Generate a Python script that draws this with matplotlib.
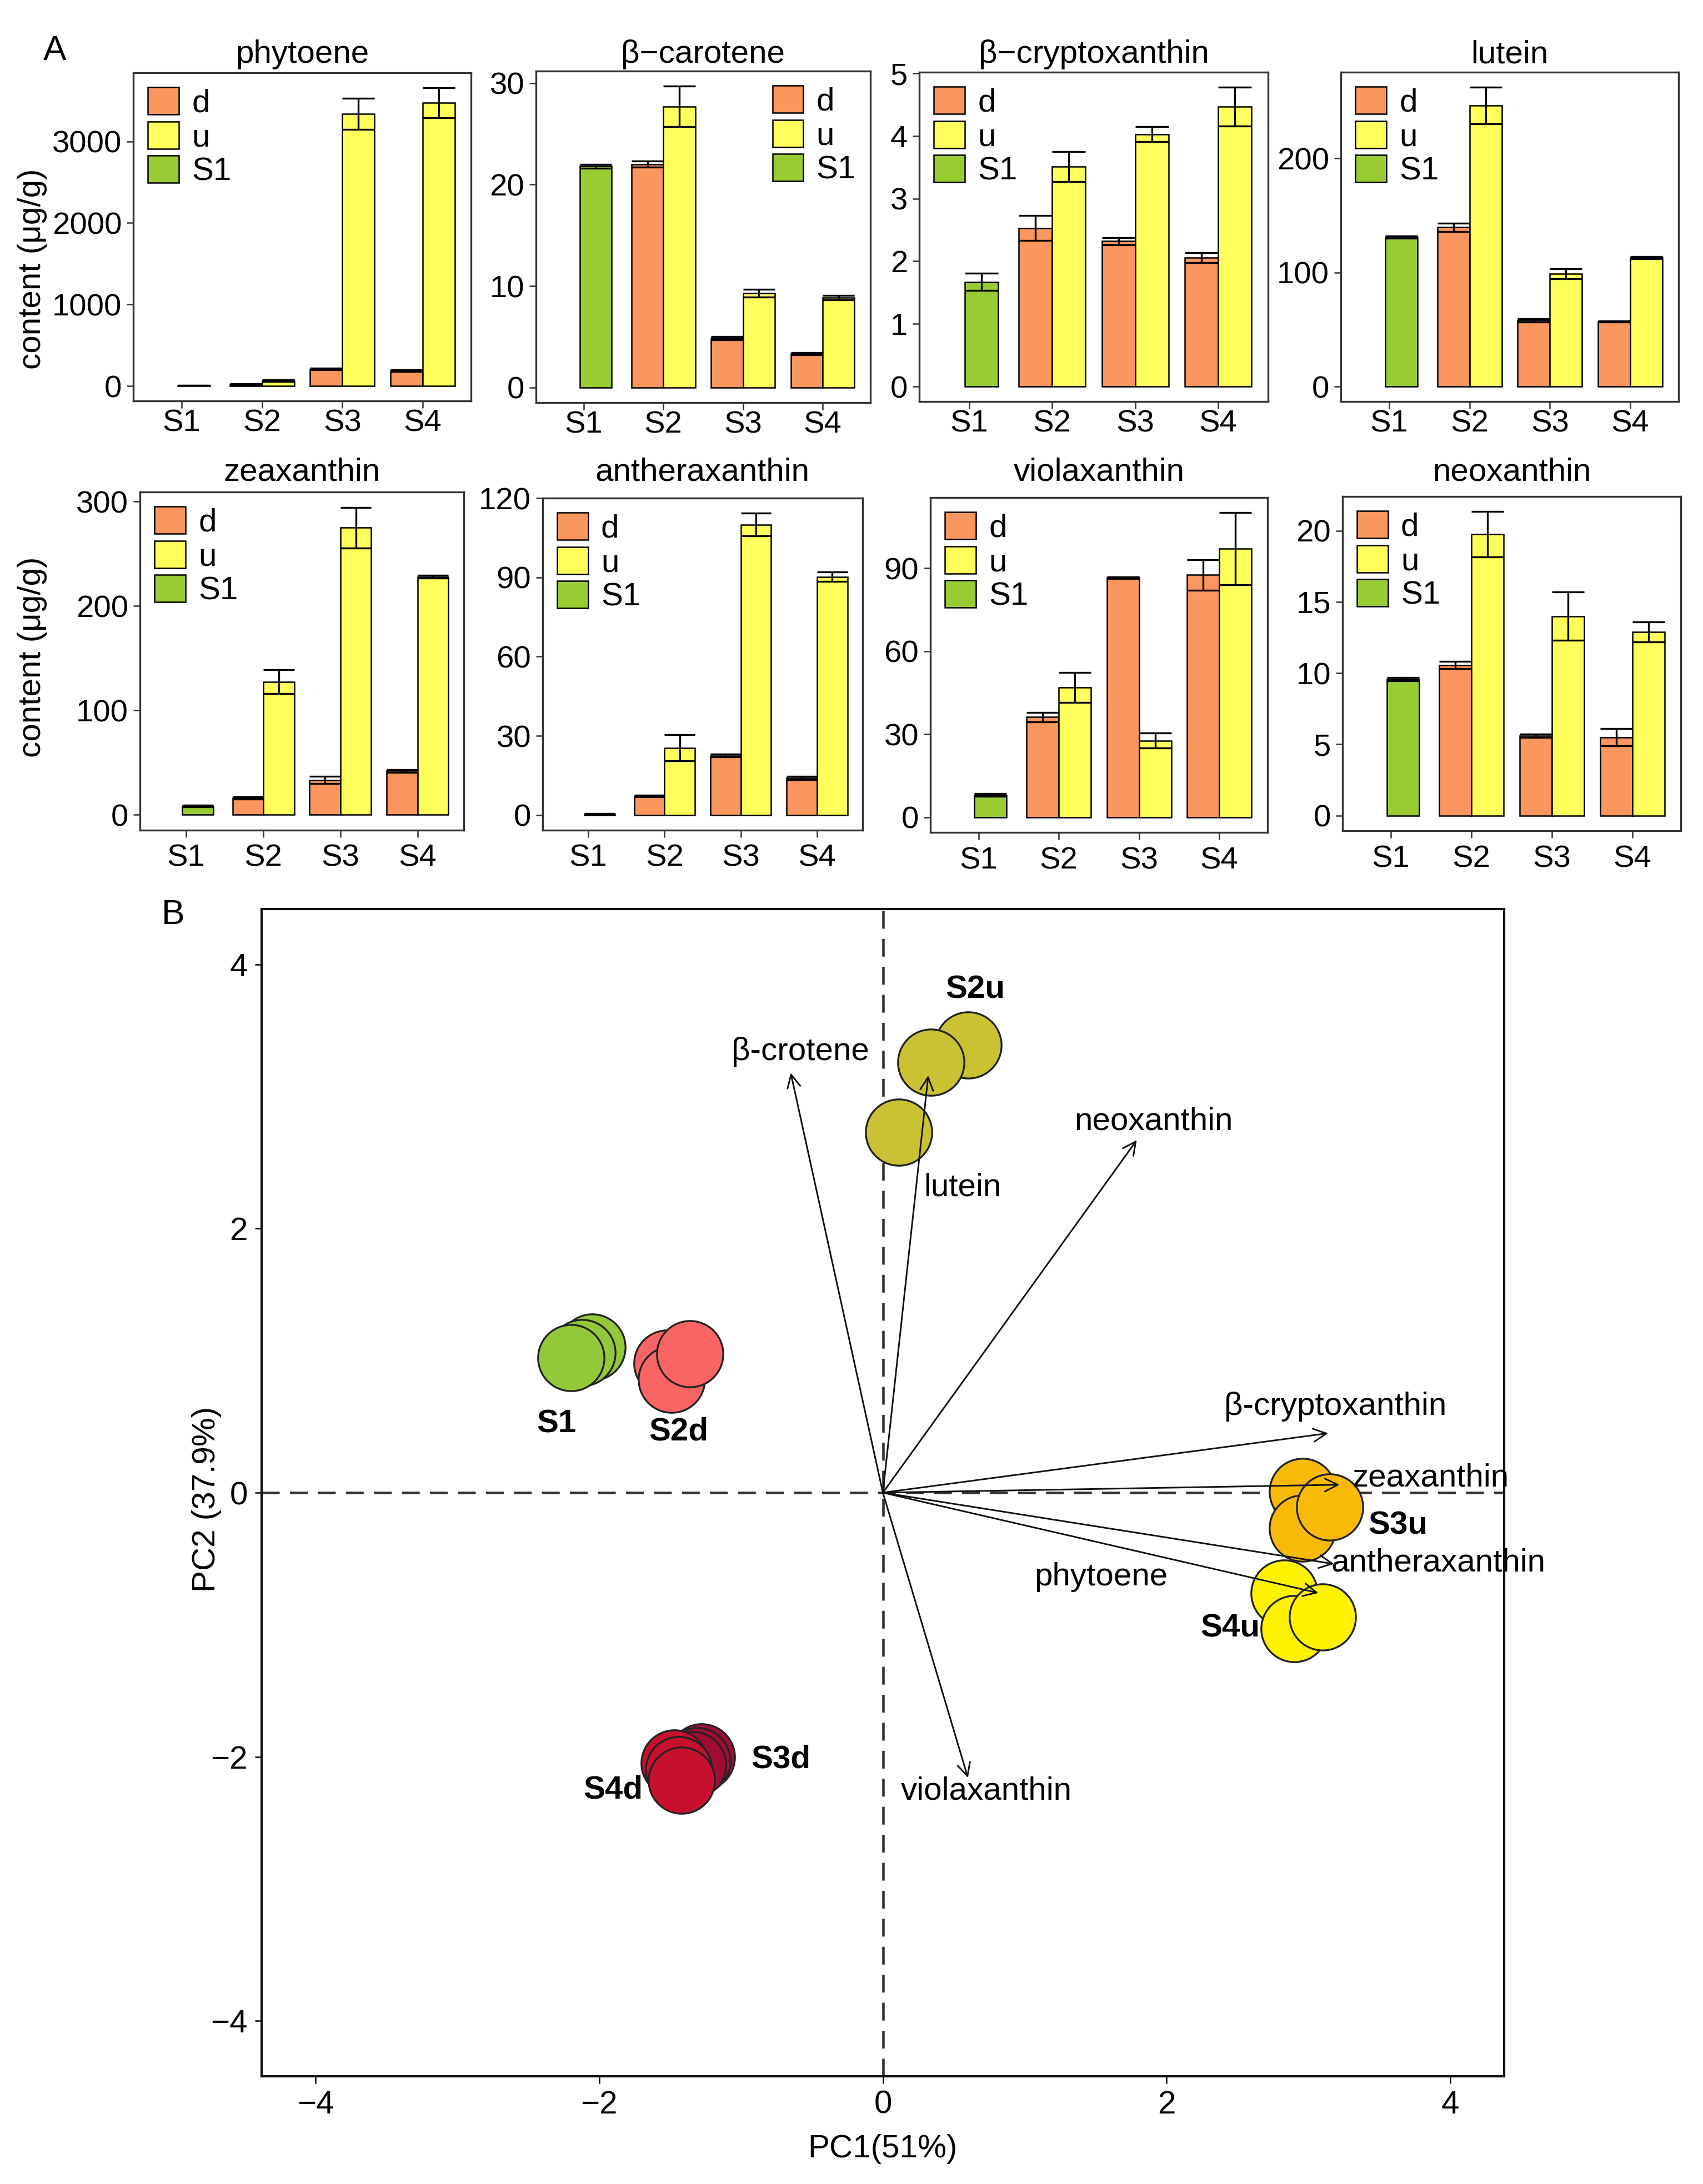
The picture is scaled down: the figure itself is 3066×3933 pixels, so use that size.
import matplotlib
matplotlib.use('Agg')
import matplotlib.pyplot as plt
from matplotlib.patches import Patch
import numpy as np

plt.rcParams['font.family'] = ['Liberation Sans', 'DejaVu Sans']

# ---------------- data: panel A ----------------
stages = ['S1', 'S2', 'S3', 'S4']
legend_labels = ['d', 'u', 'S1']

pigments = ['phytoene', 'β−carotene', 'β−cryptoxanthin', 'lutein',
            'zeaxanthin', 'antheraxanthin', 'violaxanthin', 'neoxanthin']

s1_mean = [8, 21.8, 1.67, 131, 8.4, 0.3, 8.0, 9.57]
s1_sd = [3, 0.2, 0.14, 1.0, 0.8, 0.2, 0.5, 0.12]

d_mean = [[22, 206, 189], [22.0, 4.86, 3.34], [2.53, 2.32, 2.06], [139.6, 58, 56.8],
          [16.3, 33.3, 42], [7.2, 22.5, 14.1], [36.2, 86.6, 87.6], [10.57, 5.6, 5.5]]
d_sd = [[5, 10, 10], [0.3, 0.15, 0.12], [0.2, 0.06, 0.08], [3.5, 1.5, 0.5],
        [1.0, 3.5, 1.2], [0.3, 0.5, 0.6], [1.7, 0.3, 5.6], [0.25, 0.12, 0.6]]
u_mean = [[65, 3338, 3473], [27.7, 9.3, 8.86], [3.51, 4.03, 4.47], [246.6, 98.9, 112.9],
          [127.4, 275, 228], [25.5, 110, 90.2], [46.9, 27.7, 97.1], [19.74, 14.0, 12.89]]
u_sd = [[10, 190, 185], [2.0, 0.4, 0.2], [0.24, 0.12, 0.31], [16, 4.5, 1.0],
        [11.5, 19.4, 1.5], [5, 4.3, 1.8], [5.4, 2.7, 13], [1.6, 1.7, 0.7]]

yticks = [[0, 1000, 2000, 3000], [0, 10, 20, 30], [0, 1, 2, 3, 4, 5], [0, 100, 200],
          [0, 100, 200, 300], [0, 30, 60, 90, 120], [0, 30, 60, 90], [0, 5, 10, 15, 20]]

# ---------------- data: panel B (PCA) ----------------
groups = ['S1', 'S2d', 'S2u', 'S3u', 'S4u', 'S3d', 'S4d']
group_colors = ['#93C83A', '#F96565', '#CBC233', '#F7BA08', '#FFF200', '#A00D33', '#C8102E']
pc1 = [[-2.05, -2.12, -2.20], [-1.52, -1.49, -1.36], [0.60, 0.34, 0.11],
       [2.96, 2.96, 3.15], [2.83, 2.90, 3.10], [-1.28, -1.31, -1.34], [-1.47, -1.44, -1.42]]
pc2 = [[1.10, 1.06, 1.02], [0.98, 0.86, 1.05], [3.39, 3.26, 2.73],
       [0.01, -0.27, -0.11], [-0.76, -1.03, -0.94], [-2.00, -2.03, -2.06], [-2.05, -2.10, -2.18]]
group_label_x = [-2.30, -1.44, 0.65, 3.63, 2.45, -0.72, -1.90]
group_label_y = [0.52, 0.46, 3.81, -0.25, -1.03, -2.02, -2.25]

variables = ['β-crotene', 'lutein', 'neoxanthin', 'β-cryptoxanthin', 'zeaxanthin',
             'antheraxanthin', 'phytoene', 'violaxanthin']
load_x = [-0.65, 0.32, 1.79, 3.14, 3.22, 3.18, 3.07, 0.60]
load_y = [3.18, 3.16, 2.67, 0.45, 0.06, -0.54, -0.76, -2.16]
var_label_x = [-0.58, 0.56, 1.91, 3.19, 3.31, 3.16, 1.54, 0.73]
var_label_y = [3.34, 2.31, 2.81, 0.65, 0.11, -0.53, -0.64, -2.26]
var_label_ha = ['center', 'center', 'center', 'center', 'left', 'left', 'center', 'center']

pc_ticks = [-4, -2, 0, 2, 4]

# ---------------- style ----------------
C_D = '#FC965F'
C_U = '#FFFF5C'
C_S1 = '#99CC33'
EDGE = '#333333'

W, H = 3066, 3933
fig = plt.figure(figsize=(W / 300, H / 300), dpi=300)


def rect(x0, y0, x1, y1):
    return [x0 / W, 1 - y1 / H, (x1 - x0) / W, (y1 - y0) / H]


boxes = [(240, 131, 848, 722), (965, 128, 1567, 725), (1655, 130, 2283, 723), (2414, 130, 3022, 723),
         (252, 886, 835, 1495), (977, 897, 1553, 1495), (1675, 896, 2282, 1499), (2417, 894, 3026, 1496)]
title_base = [113, 113, 113, 113, 866, 866, 866, 866]
xpad = [0.5, 0.5, 0.5, 0.5, 3, 3, 3, 3]
legend_loc = ['upper left', 'upper right', 'upper left', 'upper left',
              'upper left', 'upper left', 'upper left', 'upper left']

bw = 0.4
xpos = np.arange(len(stages))

for i in range(8):
    b = boxes[i]
    ax = fig.add_axes(rect(*b))
    bars = []
    # S1 single bar
    xs1 = xpos[0] + 0.15
    ax.bar(xs1, s1_mean[i], bw, color=C_S1, edgecolor='black', linewidth=0.6, zorder=2)
    bars.append((xs1, s1_mean[i], s1_sd[i]))
    xd = xpos[1:] - bw / 2
    xu = xpos[1:] + bw / 2
    ax.bar(xd, d_mean[i], bw, color=C_D, edgecolor='black', linewidth=0.6, zorder=2)
    ax.bar(xu, u_mean[i], bw, color=C_U, edgecolor='black', linewidth=0.6, zorder=2)
    for k in range(3):
        bars.append((xd[k], d_mean[i][k], d_sd[i][k]))
        bars.append((xu[k], u_mean[i][k], u_sd[i][k]))
    for (xc, m, s) in bars:
        ax.vlines(xc, m - s, m + s, color='black', lw=0.8, zorder=3)
        ax.hlines([m - s, m + s], xc - bw / 2, xc + bw / 2, color='black', lw=0.8, zorder=3)
    top = max(m + s for (_, m, s) in bars)
    ax.set_ylim(-0.05 * top, 1.05 * top)
    ax.set_xlim(-0.6, 3.6)
    ax.set_xticks(xpos)
    ax.set_xticklabels(stages)
    ax.set_yticks(yticks[i])
    ax.tick_params(axis='both', direction='out', length=3, width=0.6, color=EDGE,
                   labelsize=13.5, pad=2)
    ax.tick_params(axis='x', pad=xpad[i])
    for sp in ax.spines.values():
        sp.set_color(EDGE)
        sp.set_linewidth(0.8)
    fig.text((b[0] + b[2]) / 2 / W, 1 - title_base[i] / H, pigments[i], fontsize=14,
             ha='center', va='baseline')
    handles = [Patch(facecolor=c, edgecolor='black', linewidth=0.6) for c in (C_D, C_U, C_S1)]
    ax.legend(handles, legend_labels, loc=legend_loc[i], frameon=False, fontsize=14,
              handlelength=0.95, handleheight=0.92, labelspacing=0.08, handletextpad=0.4,
              borderpad=0.1, borderaxespad=0.35)

for yc in (484, 1183):
    fig.text(58 / W, 1 - yc / H, 'content (μg/g)', rotation=90,
             fontsize=14, ha='center', va='center')

fig.text(99 / W, 1 - 92 / H, 'A', fontsize=15, ha='center', va='center')
fig.text(312 / W, 1 - 1648 / H, 'B', fontsize=15, ha='center', va='center')

# ---------------- panel B ----------------
axB = fig.add_axes(rect(471, 1637, 2708, 3739))
axB.set_xlim(-4.38, 4.38)
axB.set_ylim(-4.42, 4.42)
axB.axhline(0, ls=(0, (7, 4)), color='#333333', lw=1.1, zorder=1)
axB.axvline(0, ls=(0, (7, 4)), color='#333333', lw=1.1, zorder=1)
for g in range(len(groups)):
    axB.scatter(pc1[g], pc2[g], s=820, c=group_colors[g], edgecolors='#222222',
                linewidths=0.8, zorder=3)
    axB.text(group_label_x[g], group_label_y[g], groups[g], fontsize=14, fontweight='bold',
             ha='center', va='center', zorder=5)
for v in range(len(variables)):
    axB.annotate('', xy=(load_x[v], load_y[v]), xytext=(0, 0),
                 arrowprops=dict(arrowstyle='->', lw=0.7, color='#111111',
                                 mutation_scale=14, shrinkA=0, shrinkB=0), zorder=4)
    axB.text(var_label_x[v], var_label_y[v], variables[v], fontsize=14,
             ha=var_label_ha[v], va='center', zorder=5)
axB.set_xticks(pc_ticks)
axB.set_yticks(pc_ticks)
axB.tick_params(axis='both', direction='out', length=3, width=0.6, labelsize=14, pad=3)
for sp in axB.spines.values():
    sp.set_color('#111111')
    sp.set_linewidth(1.0)
fig.text(1589 / W, 1 - 3870 / H, 'PC1(51%)', fontsize=14, ha='center', va='center')
fig.text(372 / W, 1 - 2700 / H, 'PC2 (37.9%)', fontsize=14, rotation=90,
         ha='center', va='center')

fig.savefig('out.png', dpi=300, facecolor='white')
